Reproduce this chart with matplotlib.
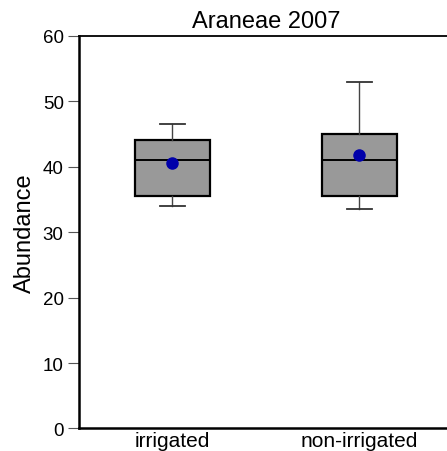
import matplotlib
matplotlib.use("Agg")
import matplotlib.pyplot as plt

plt.rcParams["font.family"] = ["Liberation Sans", "DejaVu Sans"]

groups = ["irrigated", "non-irrigated"]
q1 = [35.45, 35.45]
medians = [41.0, 41.0]
q3 = [44.0, 45.0]
whislo = [34.0, 33.5]
whishi = [46.5, 52.9]
means = [40.5, 41.75]

stats = []
for i, g in enumerate(groups):
    stats.append(dict(label=g, q1=q1[i], med=medians[i], q3=q3[i],
                      whislo=whislo[i], whishi=whishi[i], mean=means[i],
                      fliers=[]))

fig = plt.figure(figsize=(4.47, 4.52), dpi=100)
ax = fig.add_axes([0.1767, 0.0498, 1.0134 - 0.1767, 0.919 - 0.0498])

ax.bxp(stats, positions=[1, 2], widths=0.4, patch_artist=True,
       showmeans=True, showfliers=False,
       boxprops=dict(facecolor="#999999", edgecolor="black", linewidth=1.6),
       medianprops=dict(color="black", linewidth=1.4),
       whiskerprops=dict(color="#444444", linewidth=1.0),
       capprops=dict(color="#333333", linewidth=1.3),
       meanprops=dict(marker="o", markerfacecolor="#0000aa",
                      markeredgecolor="#0000aa", markersize=8),
       capwidths=0.136)

ax.set_xlim(0.5, 2.5)
ax.set_ylim(0, 60)
ax.set_yticks([0, 10, 20, 30, 40, 50, 60])
ax.spines["right"].set_visible(False)
ax.spines["left"].set_linewidth(1.8)
ax.spines["bottom"].set_linewidth(1.8)
ax.spines["top"].set_linewidth(1.3)
ax.tick_params(axis="y", labelsize=13.5, length=8, width=0.8, pad=3,
               color="#555555")
ax.tick_params(axis="x", labelsize=15, length=0, pad=2)

ax.set_ylabel("Abundance", fontsize=17, labelpad=5)
ax.set_title("Araneae 2007", fontsize=17, pad=6)

fig.savefig("out.png", dpi=100)
